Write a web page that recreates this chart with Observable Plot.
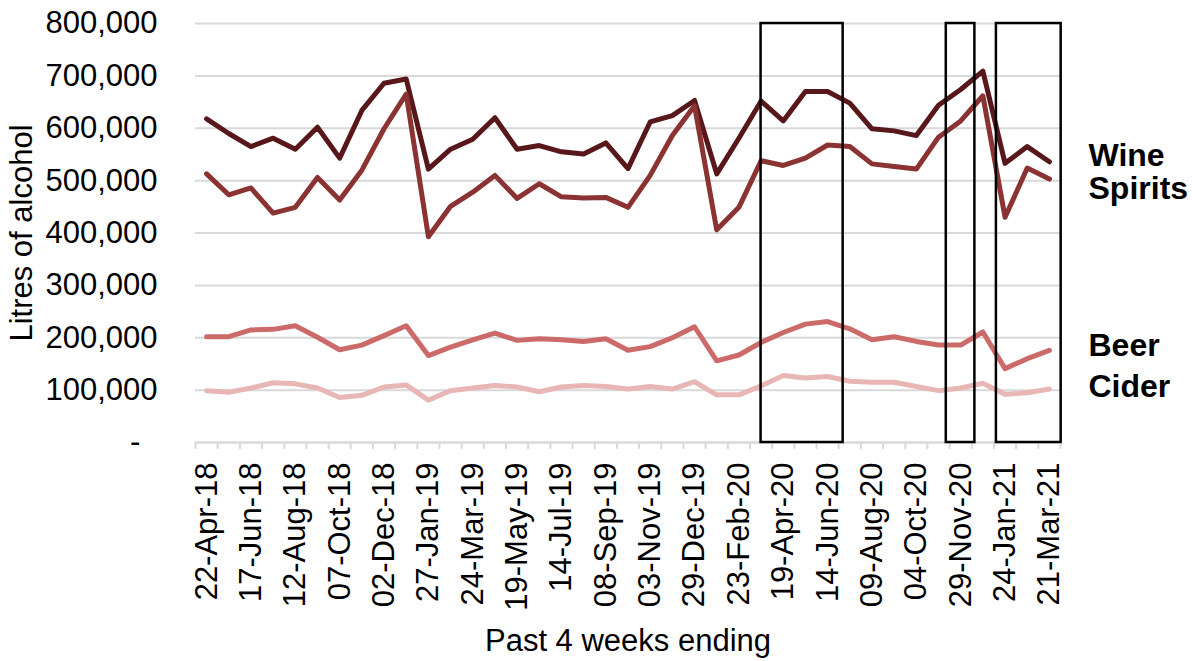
<!DOCTYPE html>
<html><head><meta charset="utf-8">
<script src="https://cdn.jsdelivr.net/npm/d3@7"></script>
<script src="https://cdn.jsdelivr.net/npm/@observablehq/plot@0.6"></script>
<style>body{margin:0;background:#fff} svg{font-family:"Liberation Sans",Arial,sans-serif}</style>
</head><body><div id="chart"></div>
<script>
const periods = ["22-Apr-18","20-May-18","17-Jun-18","15-Jul-18","12-Aug-18","09-Sep-18","07-Oct-18","04-Nov-18","02-Dec-18","30-Dec-18",
"27-Jan-19","24-Feb-19","24-Mar-19","21-Apr-19","19-May-19","16-Jun-19","14-Jul-19","11-Aug-19","08-Sep-19","06-Oct-19",
"03-Nov-19","01-Dec-19","29-Dec-19","26-Jan-20","23-Feb-20","22-Mar-20","19-Apr-20","17-May-20","14-Jun-20","12-Jul-20",
"09-Aug-20","06-Sep-20","04-Oct-20","01-Nov-20","29-Nov-20","27-Dec-20","24-Jan-21","21-Feb-21","21-Mar-21"];
const wine =    [618000,590000,565000,581000,560000,602000,543000,634000,686000,694000,522000,560000,579000,620000,560000,567000,555000,551000,572000,523000,612000,624000,653000,513000,581000,652000,614000,670000,670000,648000,599000,595000,586000,644000,674000,709000,533000,565000,536000];
const spirits = [513000,473000,486000,438000,449000,506000,463000,520000,599000,665000,393000,451000,478000,510000,466000,494000,469000,467000,468000,449000,510000,586000,643000,406000,449000,538000,529000,543000,568000,565000,532000,527000,522000,583000,614000,662000,430000,524000,503000];
const beer =    [202000,202000,215000,216000,223000,201000,177000,186000,204000,223000,166000,182000,196000,209000,195000,198000,196000,193000,198000,176000,183000,200000,221000,156000,167000,191000,210000,226000,231000,217000,196000,202000,193000,186000,186000,211000,141000,160000,176000];
const cider =   [99000,96000,104000,114000,112000,104000,86000,90000,106000,110000,81000,99000,104000,109000,106000,97000,106000,109000,107000,102000,107000,102000,116000,91000,91000,108000,128000,123000,126000,117000,115000,115000,107000,99000,104000,113000,92000,95000,102000];
const seriesNames = ["Wine","Spirits","Beer","Cider"];
const seriesColors = ["#58171b","#8b3232","#cc6a6a","#e9b6b6"];
const seriesLabelPos = [548000,485000,185000,107000];
const yTicks = [0,100000,200000,300000,400000,500000,600000,700000,800000];
const highlightStart = [25.0, 33.35, 35.61];
const highlightEnd =   [28.7, 34.64, 38.53];

const allValues = [wine, spirits, beer, cider];
const data = [];
allValues.forEach((vals, s) => vals.forEach((v, i) => data.push({series: seriesNames[s], i, v})));
const boxes = highlightStart.map((s, k) => ({start: s, end: highlightEnd[k]}));
const labels = seriesNames.map((n, k) => ({name: n, pos: seriesLabelPos[k]}));
const boundaries = d3.range(periods.length + 1).map(k => k - 0.5);
const labelIdx = d3.range(0, periods.length, 2);
const fmt = d3.format(",");
const FS = 31;

const chart = Plot.plot({
  width: 1192, height: 661,
  marginLeft: 195, marginRight: 132, marginTop: 23, marginBottom: 219,
  style: {fontFamily: "'Liberation Sans', Arial, sans-serif", fontSize: FS + "px", color: "#000", background: "#fff"},
  x: {type: "linear", domain: [-0.5, periods.length - 0.5]},
  y: {domain: [0, 800000]},
  color: {domain: seriesNames, range: seriesColors},
  marks: [
    Plot.gridY(yTicks, {stroke: "#d9d9d9", strokeOpacity: 1, strokeWidth: 2}),
    Plot.axisX(boundaries, {tickSize: 7, stroke: "#d9d9d9", strokeWidth: 2, strokeOpacity: 1, tickFormat: () => "", label: null}),
    Plot.ruleY([0], {stroke: "#d9d9d9", strokeWidth: 2}),
    Plot.axisX(labelIdx, {tickSize: 0, tickRotate: -90, tickPadding: 20, tickFormat: i => periods[i], label: null, fontSize: FS}),
    Plot.axisY(yTicks, {tickSize: 0, tickPadding: 38, tickFormat: d => d === 0 ? "-\u00a0\u00a0" : fmt(d), label: null, fontSize: FS}),
    Plot.lineY(data, {x: "i", y: "v", z: "series", stroke: "series", strokeWidth: 5}),
    Plot.rect(boxes, {x1: "start", x2: "end", y1: () => 0, y2: () => 800000, fill: "none", stroke: "#000", strokeWidth: 2.5}),
    Plot.text(labels, {x: () => periods.length - 0.5, y: "pos", text: "name", textAnchor: "start", lineAnchor: "middle", dx: 28, fontWeight: "bold", fontSize: 32}),
    Plot.text(["Litres of alcohol"], {frameAnchor: "left", textAnchor: "middle", lineAnchor: "middle", rotate: -90, dx: -173, fontSize: FS}),
    Plot.text(["Past 4 weeks ending"], {frameAnchor: "bottom", textAnchor: "middle", lineAnchor: "middle", dy: 199, fontSize: FS})
  ]
});
document.getElementById("chart").append(chart);
</script></body></html>
